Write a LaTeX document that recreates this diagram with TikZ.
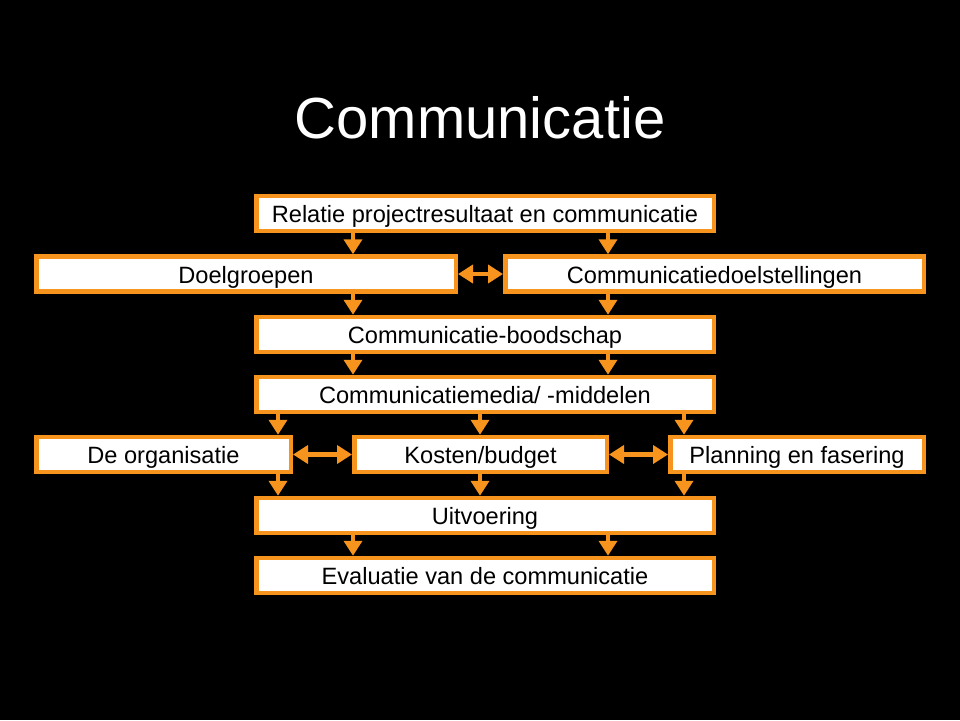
\documentclass[tikz,border=0pt]{standalone}
\usepackage{fontspec}
\setmainfont{Liberation Sans}
\usetikzlibrary{arrows.meta}
\definecolor{oranje}{RGB}{247,148,29}

\begin{document}
\begin{tikzpicture}[x=1pt, y=-1pt,
  vak/.style={draw=oranje, line width=4.5pt, fill=white, inner sep=0pt,
    minimum height=35pt, text height=19pt, text depth=1pt,
    font=\fontsize{23.6}{28}\selectfont},
  pijl/.style={oranje, line width=4.5pt, -{Triangle[width=18pt,length=15pt]}},
  dpijl/.style={oranje, line width=4.5pt, {Triangle[width=18pt,length=15pt]}-{Triangle[width=18pt,length=15pt]}}]
\fill[black] (0,0) rectangle (960,720);
\useasboundingbox (0,0) rectangle (960,720);
\node[white, anchor=base, inner sep=0pt, font=\fontsize{58}{64}\selectfont] (titel) at (480,138) {Communicatie};
% vakken
\node[vak, minimum width=457.5pt] (rel) at (485,213.5) {Relatie projectresultaat en communicatie};
\node[vak, minimum width=419.5pt] (doel) at (246,274) {Doelgroepen};
\node[vak, minimum width=418.5pt] (cdoel) at (714.5,274) {Communicatiedoelstellingen};
\node[vak, minimum width=457.5pt] (bood) at (485,334.5) {Communicatie-boodschap};
\node[vak, minimum width=457.5pt] (media) at (485,394.5) {Communicatiemedia/ -middelen};
\node[vak, minimum width=254.5pt] (org) at (163.5,454.5) {De organisatie};
\node[vak, minimum width=252.5pt] (kost) at (480.5,454.5) {Kosten/budget};
\node[vak, minimum width=253.5pt] (plan) at (797,454.5) {Planning en fasering};
\node[vak, minimum width=457.5pt] (uitv) at (485,515.5) {Uitvoering};
\node[vak, minimum width=457.5pt] (eval) at (485,575.5) {Evaluatie van de communicatie};
% pijlen
\draw[pijl] (rel.south -| 353,0) -- (doel.north -| 353,0);
\draw[pijl] (rel.south -| 608,0) -- (cdoel.north -| 608,0);
\draw[pijl] (doel.south -| 353,0) -- (bood.north -| 353,0);
\draw[pijl] (cdoel.south -| 608,0) -- (bood.north -| 608,0);
\foreach \x in {353,608} {
  \draw[pijl] (bood.south -| \x,0) -- (media.north -| \x,0);
  \draw[pijl] (uitv.south -| \x,0) -- (eval.north -| \x,0);
}
\foreach \a/\x in {org/278,kost/480,plan/684} {
  \draw[pijl] (media.south -| \x,0) -- (\a.north -| \x,0);
  \draw[pijl] (\a.south -| \x,0) -- (uitv.north -| \x,0);
}
\draw[dpijl] (doel) -- (cdoel);
\draw[dpijl] (org) -- (kost);
\draw[dpijl] (kost) -- (plan);
\end{tikzpicture}
\end{document}
